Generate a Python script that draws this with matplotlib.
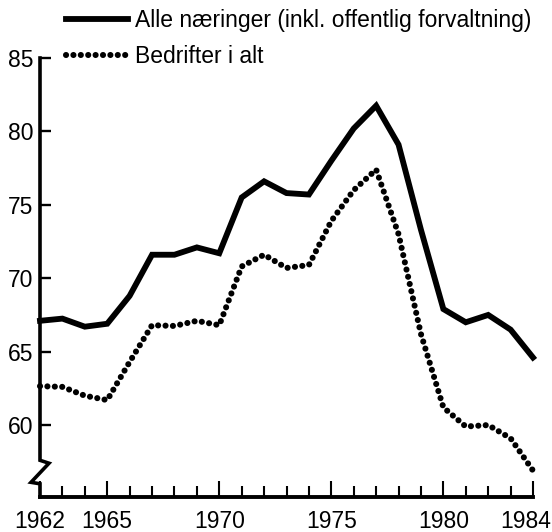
import matplotlib
matplotlib.use("Agg")
import matplotlib.pyplot as plt
import matplotlib.transforms as mtransforms

plt.rcParams['font.family'] = ['Liberation Sans', 'DejaVu Sans']

years = list(range(1962, 1985))
alle = [67.1, 67.25, 66.7, 66.9, 68.8, 71.6, 71.6, 72.1, 71.7, 75.5, 76.6, 75.8,
        75.7, 78.0, 80.2, 81.75, 79.1, 73.3, 67.9, 67.0, 67.5, 66.5, 64.6]
bedrifter = [62.65, 62.6, 62.0, 61.7, 64.3, 66.8, 66.75, 67.1, 66.8, 70.8, 71.6, 70.7,
             70.9, 73.9, 76.0, 77.4, 73.0, 66.2, 61.2, 59.9, 60.0, 59.1, 56.9]
label_alle = 'Alle næringer (inkl. offentlig forvaltning)'
label_bedr = 'Bedrifter i alt'
year_labels = [1962, 1965, 1970, 1975, 1980, 1984]
y_ticks = [60, 65, 70, 75, 80, 85]

fig = plt.figure(figsize=(5.52, 5.32), dpi=100)
ax = fig.add_axes([40 / 552, 35 / 532, 493 / 552, 439 / 532])

l1, = ax.plot(years, alle, color='black', lw=4.2, solid_joinstyle='miter', clip_on=False)
l2, = ax.plot(years, bedrifter, color='black', lw=4.4, ls=(0, (0.01, 1.2)),
              dash_capstyle='round', clip_on=False)

ax.set_xlim(1962, 1984)
ax.set_ylim(55.1, 85)

for s in ['top', 'right', 'left']:
    ax.spines[s].set_visible(False)
ax.spines['bottom'].set_linewidth(2.8)

# left spine with a break near the bottom
trans = mtransforms.blended_transform_factory(ax.transAxes, ax.transData)
off = 9 / 493
ax.plot([0, 0, off, -off, 0, 0], [85, 57.6, 57.4, 56.1, 56.0, 55.1],
        color='black', lw=2.6, transform=trans, clip_on=False, solid_joinstyle='miter')

ax.set_yticks(y_ticks)
ax.tick_params(axis='y', direction='in', length=8, width=1.7, pad=5, labelsize=16.5)
ax.set_xticks(years, [str(y) if y in year_labels else '' for y in years])
ax.tick_params(axis='x', direction='in', length=8, width=1.5, pad=9, labelsize=16.5)
for t, y in zip(ax.xaxis.get_major_ticks(), years):
    if y in year_labels:
        t.tick1line.set_markersize(11.5)
last = ax.get_xticklabels()[-1]
last.set_transform(last.get_transform() + mtransforms.ScaledTranslation(-7 / 100, 0, fig.dpi_scale_trans))

fig.legend([l1, l2], [label_alle, label_bedr], loc='upper left',
           bbox_to_anchor=(66 / 552, 1 - 9 / 532), frameon=False, fontsize=16.5,
           handlelength=2.7, handletextpad=0.3, labelspacing=0.55, borderpad=0,
           borderaxespad=0)

fig.savefig('out.png', dpi=100)
